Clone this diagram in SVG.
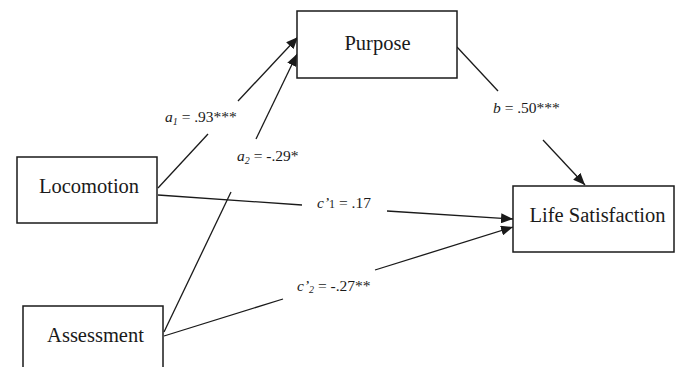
<svg xmlns="http://www.w3.org/2000/svg" width="678" height="367" viewBox="0 0 678 367">
<style>
.box{fill:#fff;stroke:#1a1a1a;stroke-width:1.5}
.nt{font-family:"Liberation Serif","Times New Roman",serif;font-size:20.5px;fill:#1a1a1a;text-anchor:middle}
.lb{font-family:"Liberation Serif","Times New Roman",serif;font-size:15.5px;fill:#1a1a1a}
.it{font-style:italic}
.sub{font-size:10px}
.ln{stroke:#1a1a1a;stroke-width:1.3;fill:none}
</style>
<defs>
<marker id="ah" markerUnits="userSpaceOnUse" markerWidth="13" markerHeight="10" refX="12" refY="5" orient="auto">
<path d="M0,0 L12,5 L0,10 z" fill="#1a1a1a"/>
</marker>
</defs>
<rect width="678" height="367" fill="#fff"/>
<g id="connectors">
<line class="ln" x1="158" y1="188" x2="208" y2="134"/>
<line class="ln" x1="238" y1="101" x2="298" y2="37" marker-end="url(#ah)"/>
<line class="ln" x1="164" y1="332" x2="231" y2="192"/>
<line class="ln" x1="256" y1="139" x2="297" y2="54" marker-end="url(#ah)"/>
<line class="ln" x1="457" y1="47" x2="498" y2="91"/>
<line class="ln" x1="543" y1="140" x2="585" y2="185" marker-end="url(#ah)"/>
<line class="ln" x1="158" y1="195" x2="302" y2="205"/>
<line class="ln" x1="387" y1="211" x2="513" y2="219" marker-end="url(#ah)"/>
<line class="ln" x1="164" y1="336" x2="283" y2="299"/>
<line class="ln" x1="375" y1="270" x2="513" y2="227" marker-end="url(#ah)"/>
</g>
<g id="purpose">
<rect class="box" x="297" y="11" width="160" height="67"/>
<text class="nt" x="377.5" y="50">Purpose</text>
</g>
<g id="locomotion">
<rect class="box" x="17" y="157" width="140" height="66"/>
<text class="nt" x="89" y="193">Locomotion</text>
</g>
<g id="assessment">
<rect class="box" x="23" y="306" width="140" height="70"/>
<text class="nt" x="95.5" y="342">Assessment</text>
</g>
<g id="life-satisfaction">
<rect class="box" x="513" y="186" width="161" height="66"/>
<text class="nt" x="597.5" y="222">Life Satisfaction</text>
</g>
<g id="labels">
<text class="lb" x="165" y="122"><tspan class="it">a</tspan><tspan class="it sub" dy="3">1</tspan><tspan dy="-3"> = .93***</tspan></text>
<text class="lb" x="237" y="161"><tspan class="it">a</tspan><tspan class="it sub" dy="3">2</tspan><tspan dy="-3"> = -.29*</tspan></text>
<text class="lb" x="493" y="113"><tspan class="it">b</tspan> = .50***</text>
<text class="lb" x="317" y="208"><tspan class="it">c’</tspan><tspan class="sub" style="font-size:12px">1</tspan> = .17</text>
<text class="lb" x="297" y="291"><tspan class="it">c’</tspan><tspan class="it sub" dy="2">2</tspan><tspan dy="-2"> = -.27**</tspan></text>
</g>
</svg>
